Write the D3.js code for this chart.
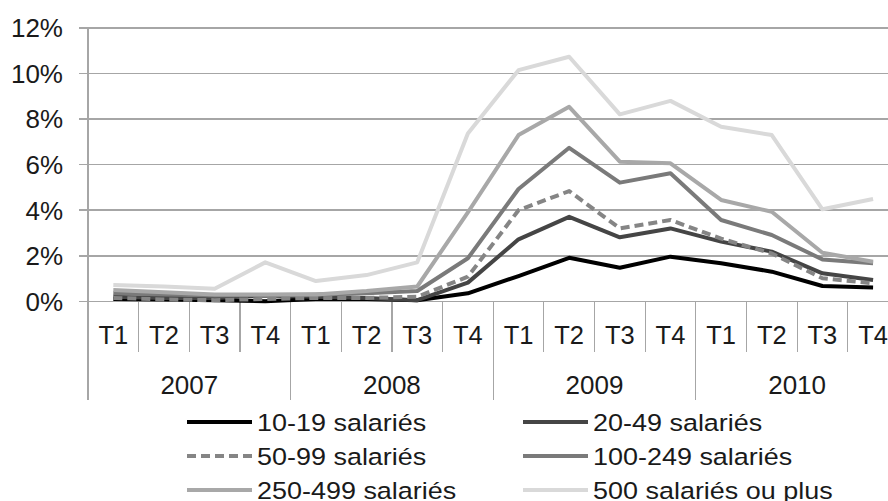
<!DOCTYPE html>
<html lang="fr">
<head>
<meta charset="utf-8">
<style>
body { margin: 0; background: #fff; }
text { font-family: "Liberation Sans", Arial, sans-serif; fill: #1a1a1a; }
.grid line { stroke: #a6a6a6; stroke-width: 1.5px; shape-rendering: crispEdges; }
.cat line { stroke: #a6a6a6; stroke-width: 1.2px; shape-rendering: crispEdges; }
path.serie { fill: none; stroke-width: 4px; stroke-linejoin: round; }
</style>
</head>
<body>
<svg width="888" height="501"></svg>
<script src="https://cdn.jsdelivr.net/npm/d3@7"></script>
<script>
var years = ["2007", "2008", "2009", "2010"],
    quarters = ["T1", "T2", "T3", "T4"],
    yTicks = [0, 2, 4, 6, 8, 10, 12];

// part des entreprises (%) par trimestre, 2007 T1 -> 2010 T4
var s10_19   = [0.10, 0.08, 0.05, 0.00, 0.10, 0.10, 0.05, 0.35, 1.11, 1.91, 1.47, 1.96, 1.67, 1.30, 0.67, 0.61],
    s20_49   = [0.20, 0.15, 0.15, 0.25, 0.20, 0.15, 0.05, 0.82, 2.72, 3.71, 2.81, 3.20, 2.62, 2.18, 1.23, 0.94],
    s50_99   = [0.15, 0.08, 0.05, 0.10, 0.15, 0.15, 0.20, 1.08, 4.00, 4.84, 3.20, 3.57, 2.75, 2.10, 1.01, 0.79],
    s100_249 = [0.35, 0.30, 0.25, 0.28, 0.30, 0.35, 0.45, 1.89, 4.93, 6.74, 5.21, 5.62, 3.57, 2.91, 1.84, 1.67],
    s250_499 = [0.50, 0.40, 0.30, 0.30, 0.30, 0.45, 0.65, 3.90, 7.30, 8.54, 6.13, 6.06, 4.45, 3.93, 2.13, 1.74],
    s500     = [0.72, 0.65, 0.55, 1.71, 0.89, 1.15, 1.71, 7.37, 10.15, 10.74, 8.21, 8.80, 7.66, 7.30, 4.04, 4.49];

var series = [
  { name: "10-19 salariés",        values: s10_19,   color: "#000000" },
  { name: "20-49 salariés",        values: s20_49,   color: "#454545" },
  { name: "50-99 salariés",        values: s50_99,   color: "#858585", dash: "9,5" },
  { name: "100-249 salariés",      values: s100_249, color: "#7a7a7a" },
  { name: "250-499 salariés",      values: s250_499, color: "#a8a8a8" },
  { name: "500 salariés ou plus",  values: s500,     color: "#d9d9d9" }
];

var svg = d3.select("svg");

var cats = d3.range(years.length * quarters.length);
var x = d3.scaleBand().domain(cats).range([88, 898.4]),
    y = d3.scaleLinear().domain([0, 12]).range([301.3, 28]);

// grille horizontale + libellés
var grid = svg.append("g").attr("class", "grid");
grid.selectAll("line").data(yTicks).enter().append("line")
    .attr("x1", 79).attr("x2", 898)
    .attr("y1", function(d) { return y(d); })
    .attr("y2", function(d) { return y(d); });
svg.append("g").selectAll("text").data(yTicks).enter().append("text")
    .attr("x", 63).attr("y", function(d) { return y(d) + 9.3; })
    .attr("text-anchor", "end").style("font-size", "26px")
    .text(function(d) { return d + "%"; });

// axe des catégories
var cat = svg.append("g").attr("class", "cat");
cat.append("line").attr("x1", 88).attr("x2", 88).attr("y1", y(12)).attr("y2", 400);
cat.selectAll(".q").data(cats.concat([cats.length])).enter().append("line")
    .attr("x1", function(d) { return 88 + d * x.step(); })
    .attr("x2", function(d) { return 88 + d * x.step(); })
    .attr("y1", y(0))
    .attr("y2", function(d) { return d % 4 === 0 ? 400 : 352; });

svg.append("g").selectAll("text").data(cats).enter().append("text")
    .attr("x", function(d) { return x(d) + x.bandwidth() / 2; })
    .attr("y", 343.5)
    .attr("text-anchor", "middle").style("font-size", "25.5px")
    .text(function(d) { return quarters[d % 4]; });

svg.append("g").selectAll("text").data(years).enter().append("text")
    .attr("x", function(d, i) { return x(i * 4) + 2 * x.step(); })
    .attr("y", 393.5)
    .attr("text-anchor", "middle").style("font-size", "26px")
    .text(function(d) { return d; });

// courbes
var line = d3.line()
    .x(function(d, i) { return x(i) + x.bandwidth() / 2; })
    .y(function(d) { return y(d); });

svg.append("g").selectAll("path").data(series).enter().append("path")
    .attr("class", "serie")
    .attr("stroke", function(d) { return d.color; })
    .attr("stroke-dasharray", function(d) { return d.dash || null; })
    .attr("d", function(d) { return line(d.values); });

// légende (texte un peu élargi comme dans l'original)
var leg = svg.append("g").selectAll("g").data(series).enter().append("g")
    .attr("transform", function(d, i) {
      return "translate(" + (i % 2 ? 523 : 187) + "," + (422 + Math.floor(i / 2) * 34) + ")";
    });
leg.append("line")
    .attr("x1", 0).attr("x2", 65)
    .attr("stroke", function(d) { return d.color; })
    .attr("stroke-width", 4)
    .attr("stroke-dasharray", function(d) { return d.dash || null; });
leg.append("text")
    .attr("x", 70).attr("y", 8.8)
    .style("font-size", "24.5px")
    .text(function(d) { return d.name; })
    .each(function() {
      var w = this.getComputedTextLength();
      d3.select(this).attr("textLength", w * 1.1).attr("lengthAdjust", "spacingAndGlyphs");
    });
</script>
</body>
</html>
